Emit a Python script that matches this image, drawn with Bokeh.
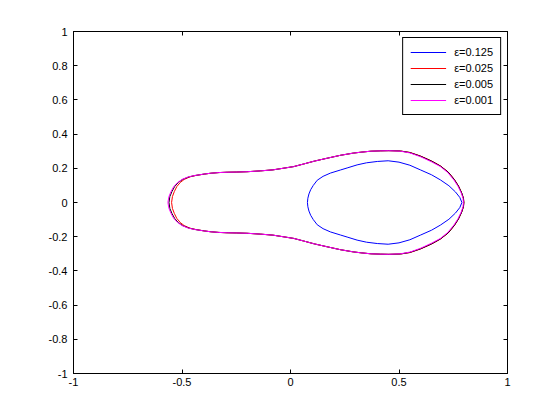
from bokeh.plotting import figure
from bokeh.models import Range1d, LinearAxis, FixedTicker
from bokeh.embed import file_html
from bokeh.resources import INLINE

x_ticks = [-1, -0.5, 0, 0.5, 1]
x_tick_labels = ["-1", "-0.5", "0", "0.5", "1"]
y_ticks = [-1, -0.8, -0.6, -0.4, -0.2, 0, 0.2, 0.4, 0.6, 0.8, 1]
y_tick_labels = ["-1", "-0.8", "-0.6", "-0.4", "-0.2", "0", "0.2", "0.4", "0.6", "0.8", "1"]

series_labels = ["ε=0.125", "ε=0.025", "ε=0.005", "ε=0.001"]
series_colors = ["#0000FF", "#FF0000", "#000000", "#FF00FF"]

# upper halves of the (symmetric) closed curves
eps_0125_x = [0.078, 0.080, 0.085, 0.093, 0.105, 0.123, 0.150, 0.184, 0.230, 0.261,
              0.307, 0.350, 0.400, 0.450, 0.500, 0.550, 0.600, 0.650, 0.691, 0.730,
              0.760, 0.780, 0.790]
eps_0125_y = [0.000, 0.025, 0.050, 0.075, 0.100, 0.130, 0.153, 0.172, 0.190, 0.202,
              0.220, 0.232, 0.240, 0.244, 0.236, 0.218, 0.190, 0.162, 0.132, 0.098,
              0.062, 0.030, 0.000]

eps_0025_x = [-0.548, -0.544, -0.535, -0.524, -0.508, -0.490, -0.463, -0.436, -0.398, -0.368,
              -0.330, -0.292, -0.250, -0.200, -0.138, -0.080, -0.020, 0.015, 0.060, 0.110,
              0.169, 0.230, 0.290, 0.323, 0.370, 0.415, 0.453, 0.507, 0.550, 0.599,
              0.650, 0.691, 0.727, 0.755, 0.774, 0.789, 0.797, 0.799]
eps_0025_y = [0.000, 0.035, 0.065, 0.093, 0.117, 0.135, 0.150, 0.158, 0.166, 0.171,
              0.175, 0.177, 0.178, 0.180, 0.185, 0.191, 0.203, 0.210, 0.225, 0.242,
              0.259, 0.276, 0.289, 0.294, 0.300, 0.302, 0.303, 0.301, 0.293, 0.272,
              0.243, 0.214, 0.178, 0.135, 0.097, 0.056, 0.025, 0.000]

eps_0005_x = [-0.560, -0.556, -0.546, -0.534, -0.517, -0.497, -0.468, -0.439, -0.399, -0.369,
              -0.330, -0.292, -0.250, -0.200, -0.138, -0.080, -0.020, 0.015, 0.060, 0.110,
              0.169, 0.230, 0.290, 0.323, 0.370, 0.415, 0.453, 0.507, 0.550, 0.599,
              0.650, 0.691, 0.727, 0.755, 0.774, 0.789, 0.797, 0.799]
eps_0005_y = [0.000, 0.035, 0.065, 0.093, 0.117, 0.135, 0.150, 0.158, 0.166, 0.171,
              0.175, 0.177, 0.178, 0.180, 0.185, 0.191, 0.203, 0.210, 0.225, 0.242,
              0.259, 0.276, 0.289, 0.294, 0.300, 0.302, 0.303, 0.301, 0.292, 0.271,
              0.242, 0.213, 0.177, 0.134, 0.096, 0.056, 0.025, 0.000]

eps_0001_x = [-0.565, -0.560, -0.550, -0.538, -0.520, -0.500, -0.470, -0.440, -0.400, -0.369,
              -0.330, -0.292, -0.250, -0.200, -0.138, -0.080, -0.020, 0.015, 0.060, 0.110,
              0.169, 0.230, 0.290, 0.323, 0.370, 0.415, 0.453, 0.507, 0.550, 0.599,
              0.650, 0.691, 0.725, 0.753, 0.772, 0.787, 0.795, 0.797]
eps_0001_y = [0.000, 0.035, 0.065, 0.093, 0.117, 0.135, 0.150, 0.158, 0.166, 0.171,
              0.175, 0.177, 0.178, 0.180, 0.185, 0.191, 0.203, 0.210, 0.225, 0.242,
              0.259, 0.276, 0.289, 0.294, 0.300, 0.302, 0.303, 0.300, 0.290, 0.268,
              0.238, 0.210, 0.175, 0.132, 0.095, 0.055, 0.025, 0.000]

series = [(eps_0125_x, eps_0125_y), (eps_0025_x, eps_0025_y),
          (eps_0005_x, eps_0005_y), (eps_0001_x, eps_0001_y)]


def closed(ux, uy):
    xs = list(ux) + list(ux[::-1])
    ys = list(uy) + [-v for v in uy[::-1]]
    return xs, ys


FONT = "Liberation Sans"
FS = "11px"

p = figure(frame_width=434, frame_height=342, width=544, height=404,
           min_border_left=73, min_border_top=31, min_border_right=37, min_border_bottom=31,
           x_range=Range1d(-1, 1), y_range=Range1d(-1, 1),
           output_backend="svg", toolbar_location=None,
           background_fill_color="white", border_fill_color="white")
p.xgrid.visible = False
p.ygrid.visible = False
p.outline_line_color = "black"
p.outline_line_width = 1
p.outline_line_alpha = 1

for (ux, uy), lab, col in zip(series, series_labels, series_colors):
    xs, ys = closed(ux, uy)
    p.line(xs, ys, line_color=col, line_width=1, legend_label=lab)


def style(ax, ticks, labels, show):
    ax.ticker = FixedTicker(ticks=ticks)
    ax.major_tick_in = 4
    ax.major_tick_out = 0
    ax.minor_tick_line_color = None
    ax.axis_line_color = "black"
    ax.major_tick_line_color = "black"
    ax.major_label_text_font = FONT
    ax.major_label_text_color = "black"
    ax.major_label_text_font_size = FS
    if show:
        ax.major_label_overrides = {t: l for t, l in zip(ticks, labels)}
    else:
        ax.major_label_overrides = {t: "" for t in ticks}
        ax.major_label_standoff = 0


style(p.xaxis[0], x_ticks, x_tick_labels, True)
style(p.yaxis[0], y_ticks, y_tick_labels, True)
p.xaxis[0].major_label_standoff = 4
p.yaxis[0].major_label_standoff = 6

top_ax = LinearAxis()
right_ax = LinearAxis()
style(top_ax, x_ticks, x_tick_labels, False)
style(right_ax, y_ticks, y_tick_labels, False)
p.add_layout(top_ax, "above")
p.add_layout(right_ax, "right")

lg = p.legend[0]
lg.location = "top_right"
lg.margin = 6
lg.padding = 7
lg.spacing = 2
lg.glyph_width = 36
lg.glyph_height = 14
lg.label_height = 14
lg.label_standoff = 8
lg.label_text_font = FONT
lg.label_text_font_size = FS
lg.label_text_color = "black"
lg.border_line_color = "black"
lg.border_line_width = 1
lg.border_line_alpha = 1
lg.background_fill_color = "white"
lg.background_fill_alpha = 1

open("out.html", "w").write(file_html(p, INLINE))
